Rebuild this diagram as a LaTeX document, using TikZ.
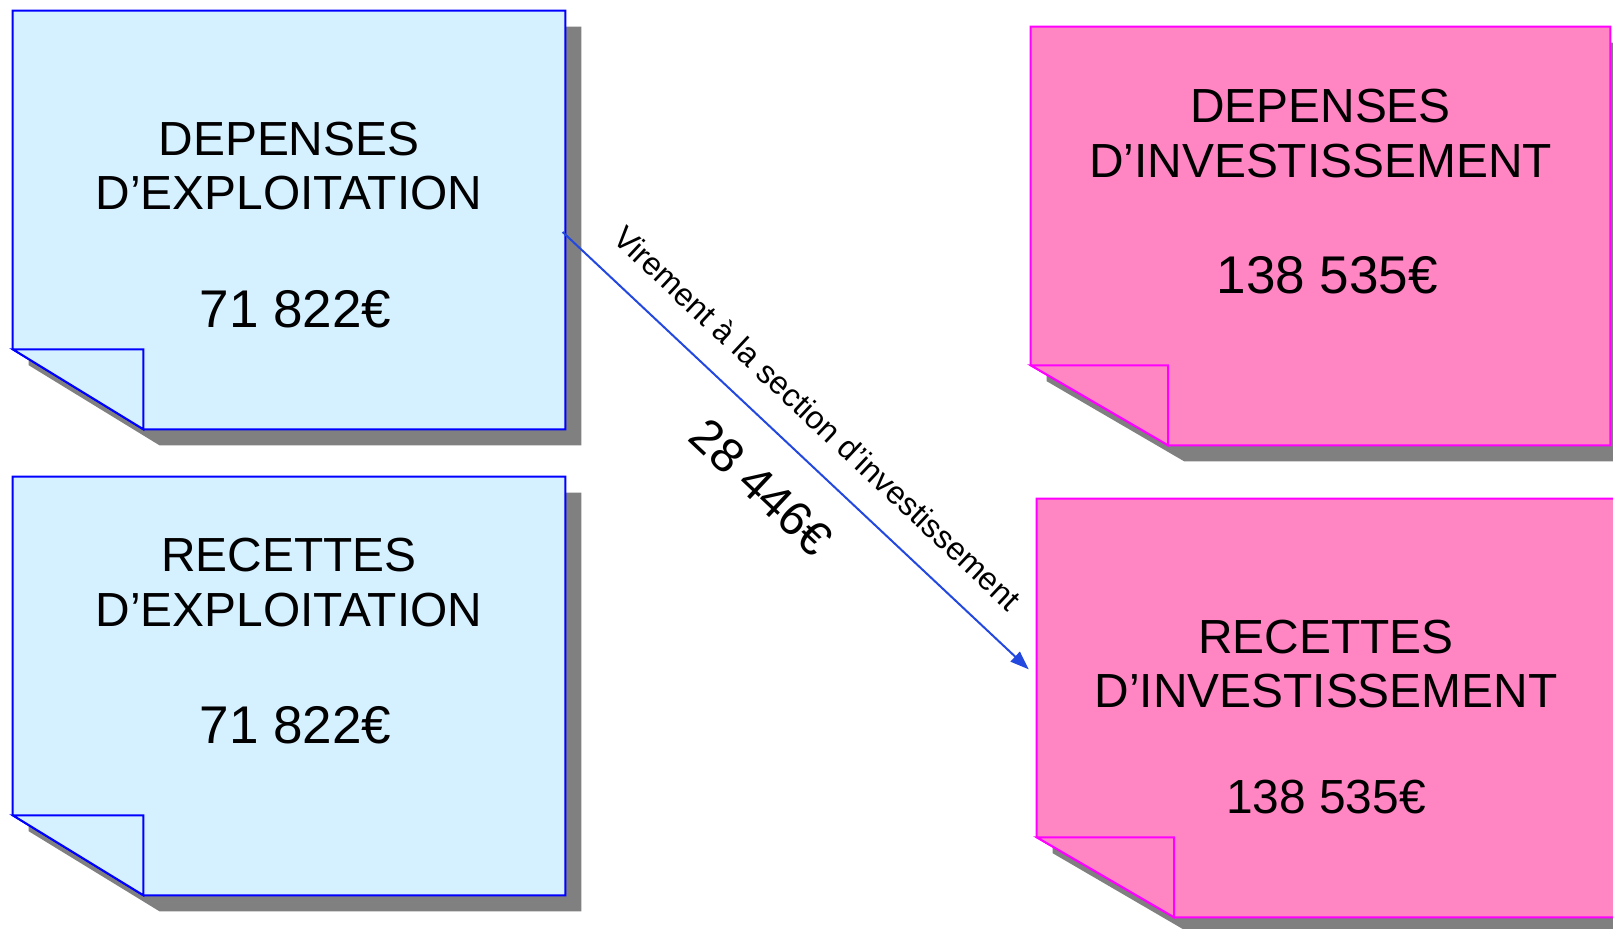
\documentclass[tikz,border=0pt]{standalone}
\usepackage{fontspec}
\setmainfont{Liberation Sans}
\usepackage{tikz}
\usetikzlibrary{arrows.meta,positioning,shadows}
\usepackage{xcolor}
\definecolor{paleblue}{RGB}{213,240,255}
\definecolor{notepink}{RGB}{255,133,195}
\definecolor{notemagenta}{RGB}{255,0,255}
\definecolor{noteblue}{RGB}{0,0,255}
\definecolor{arrowblue}{RGB}{34,72,224}
\newcommand{\amt}{\fontsize{39.8pt}{46pt}\selectfont\hspace*{10pt}}
\tikzstyle{notebox} = [rectangle, inner sep=0pt, minimum height=313.5pt]
\tikzstyle{blue note} = [draw=noteblue, fill=paleblue, line width=1.5pt]
\tikzstyle{pink note} = [draw=notemagenta, fill=notepink, line width=1.5pt]
\tikzstyle{noteshadow} = [drop shadow={shadow xshift=12pt, shadow yshift=-12pt, opacity=1, fill=gray}]
\tikzstyle{notetext} = [inner sep=0pt, align=center, font={\fontsize{35.9pt}{41pt}\selectfont}]

\begin{document}
\begin{tikzpicture}[x=0.75pt, y=-0.75pt, >={Triangle[length=14pt, width=10pt]}]
    \useasboundingbox (0,0) rectangle (1613,928);
    \clip (0,0) rectangle (1613,928);

    \node [notebox, minimum width=414pt] (depexp) at (289,220) {};
    \node [notebox, minimum width=414pt] (recexp) at (289,686) {};
    \node [notebox, minimum width=434.25pt] (depinv) at (1320.5,236) {};
    \node [notebox, minimum width=433.5pt] (recinv) at (1326,708) {};

    % Exploitation notes
    \draw [blue note, noteshadow] (depexp.north west) -- (depexp.north east) -- (depexp.south east) -- ([xshift=98pt]depexp.south west) -- ([yshift=60pt]depexp.south west) -- cycle;
    \draw [blue note] ([yshift=60pt]depexp.south west) -- ([xshift=98pt, yshift=60pt]depexp.south west) -- ([xshift=98pt]depexp.south west) -- cycle;
    \draw [blue note, noteshadow] (recexp.north west) -- (recexp.north east) -- (recexp.south east) -- ([xshift=98pt]recexp.south west) -- ([yshift=60pt]recexp.south west) -- cycle;
    \draw [blue note] ([yshift=60pt]recexp.south west) -- ([xshift=98pt, yshift=60pt]recexp.south west) -- ([xshift=98pt]recexp.south west) -- cycle;

    % Investissement notes
    \draw [pink note, noteshadow] (depinv.north west) -- (depinv.north east) -- (depinv.south east) -- ([xshift=103pt]depinv.south west) -- ([yshift=60pt]depinv.south west) -- cycle;
    \draw [pink note] ([yshift=60pt]depinv.south west) -- ([xshift=103pt, yshift=60pt]depinv.south west) -- ([xshift=103pt]depinv.south west) -- cycle;
    \draw [pink note, noteshadow] (recinv.north west) -- (recinv.north east) -- (recinv.south east) -- ([xshift=103pt]recinv.south west) -- ([yshift=60pt]recinv.south west) -- cycle;
    \draw [pink note] ([yshift=60pt]recinv.south west) -- ([xshift=103pt, yshift=60pt]recinv.south west) -- ([xshift=103pt]recinv.south west) -- cycle;

    \node [notetext, below=83pt of depexp.north] (depexp-txt) {DEPENSES\\D’EXPLOITATION\\[47pt]{\amt 71 822€}};
    \node [notetext, below=46pt of recexp.north] (recexp-txt) {RECETTES\\D’EXPLOITATION\\[47pt]{\amt 71 822€}};
    \node [notetext, below=46.5pt of depinv.north] (depinv-txt) {DEPENSES\\D’INVESTISSEMENT\\[46pt]{\amt 138 535€}};
    \node [notetext, below=90.5pt of recinv.north] (recinv-txt) {RECETTES\\D’INVESTISSEMENT\\[38.5pt]138 535€};

    \draw [->, draw=arrowblue, line width=1.5pt] ([xshift=-2pt, yshift=-9pt]depexp.east) -- node[sloped, pos=0.49, above=19.5pt, inner sep=0pt, font={\fontsize{24pt}{28pt}\selectfont}] (vir-lbl) {Virement à la section d’investissement} node[sloped, midway, below=24pt, inner sep=0pt, font={\fontsize{36pt}{41pt}\selectfont}] (vir-amt) {28 446€} ([xshift=-6pt, yshift=29pt]recinv.west);
\end{tikzpicture}
\end{document}
